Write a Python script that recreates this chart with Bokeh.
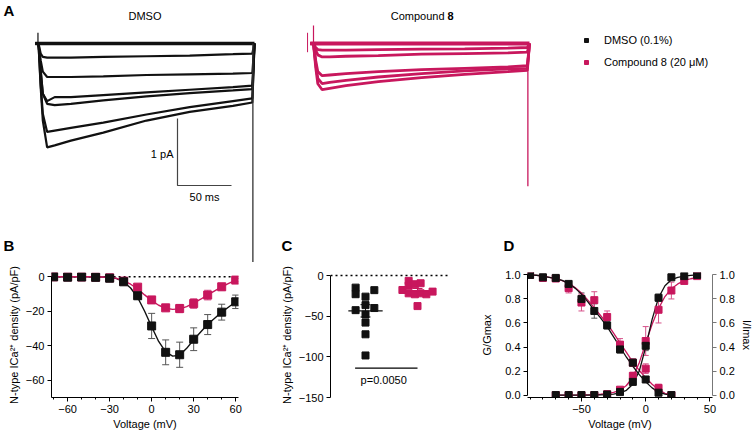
from bokeh.plotting import figure
from bokeh.layouts import row, column
from bokeh.models import (Range1d, FixedTicker, LinearAxis, Whisker, ColumnDataSource,
                          Label, Legend, LegendItem, TeeHead, NumeralTickFormatter)
from bokeh.embed import file_html
from bokeh.resources import INLINE

FONT = "Liberation Sans"
BLACK = "#111111"
PINK = "#C8175D"
PINK_ERR = "#D6528A"
BLACK_ERR = "#555555"

# ---------------- Panel A : current traces (time in ms, current in pA) ----------------
trace_t = [-3, 0, 2, 4, 8, 15, 30, 60, 100, 140, 180, 198, 200]
dmso_traces = [
    [0, 0, 0, 0, 0, 0, 0, 0, 0, 0, 0, 0, 0],
    [0, 0, -0.15, -0.20, -0.21, -0.21, -0.21, -0.20, -0.19, -0.18, -0.16, -0.15, 0],
    [0, 0, -0.25, -0.42, -0.50, -0.50, -0.50, -0.49, -0.47, -0.46, -0.45, -0.44, 0],
    [0, 0, -0.40, -0.75, -0.86, -0.80, -0.80, -0.77, -0.73, -0.69, -0.65, -0.63, 0],
    [0, 0, -0.40, -0.75, -0.90, -0.92, -0.90, -0.85, -0.79, -0.74, -0.70, -0.68, 0],
    [0, 0, -0.60, -1.05, -1.32, -1.30, -1.26, -1.18, -1.06, -0.95, -0.86, -0.82, 0],
    [0, 0, -0.65, -1.15, -1.55, -1.52, -1.45, -1.33, -1.15, -1.02, -0.93, -0.88, 0],
]
cpd_traces = [
    [0, 0, 0, 0, 0, 0, 0, 0, 0, 0, 0, 0, 0],
    [0, 0, -0.06, -0.09, -0.10, -0.10, -0.10, -0.09, -0.085, -0.08, -0.07, -0.06, 0],
    [0, 0, -0.10, -0.17, -0.20, -0.20, -0.19, -0.18, -0.16, -0.15, -0.14, -0.13, 0],
    [0, 0, -0.25, -0.42, -0.48, -0.47, -0.45, -0.42, -0.39, -0.37, -0.35, -0.33, 0],
    [0, 0, -0.30, -0.52, -0.60, -0.58, -0.55, -0.50, -0.45, -0.41, -0.38, -0.37, 0],
    [0, 0, -0.35, -0.60, -0.69, -0.67, -0.63, -0.57, -0.51, -0.46, -0.42, -0.40, 0],
]
dmso_artifact = [0.16, -0.05]
cpd_artifact = [0.27, -0.10]
tail_t = 198.5
dmso_tail_peak = -3.3
cpd_tail_peak = -2.13
scalebar_ms = 50
scalebar_pa = 1

# ---------------- Panel B : I-V ----------------
iv_v = [-70, -60, -50, -40, -30, -20, -10, 0, 10, 20, 30, 40, 50, 60]
iv_dmso = [0, -0.2, -0.1, -0.3, -0.8, -2.9, -11.0, -28.5, -43.8, -45.2, -36.2, -27.7, -20.5, -14.5]
iv_dmso_sem = [0.1, 0.1, 0.1, 0.2, 0.3, 0.8, 2.1, 7.3, 7.2, 7.3, 6.6, 5.8, 4.6, 3.9]
iv_cpd = [0, -0.1, -0.1, -0.2, -0.6, -2.5, -6.0, -13.4, -18.0, -18.4, -15.5, -10.6, -5.8, -1.9]
iv_cpd_sem = [0.1, 0.1, 0.1, 0.1, 0.3, 0.6, 1.3, 1.8, 1.8, 2.4, 2.8, 2.8, 2.0, 1.0]
iv_fit_v = [-70, -65, -60, -55, -50, -45, -40, -35, -30, -25, -20, -15, -10, -5, 0,
            5, 10, 15, 20, 25, 30, 35, 40, 45, 50, 55, 60]
iv_fit_dmso = [0, 0, 0, 0, 0, 0, 0, -0.1, -0.3, -1.0, -3.0, -6.5, -12.0, -20.0, -29.0,
               -37.5, -43.5, -46.0, -45.5, -41.5, -36.5, -32.0, -27.5, -24.0, -20.5, -17.5, -14.5]
iv_fit_cpd = [0, 0, 0, 0, 0, 0, 0, -0.1, -0.3, -0.9, -2.3, -4.3, -7.0, -10.5, -13.8,
              -16.5, -18.2, -18.9, -18.6, -17.3, -15.3, -13.0, -10.5, -8.1, -5.9, -3.8, -2.0]
iv_xticks = [-60, -30, 0, 30, 60]
iv_xminor = [-70, -50, -40, -20, -10, 10, 20, 40, 50]
iv_yticks = [-60, -40, -20, 0]

# ---------------- Panel C : peak density scatter ----------------
groups = ["DMSO", "Compound 8"]
c_dmso = [-14.9, -23.0, -26.0, -18.0, -42.6, -36.4, -40.0, -48.0, -57.9, -72.3, -98.3]
c_cpd = [-6.6, -12.4, -10.7, -9.5, -17.8, -21.9, -23.1, -21.9, -23.1, -19.8, -37.6]
c_yticks = [-150, -100, -50, 0]
p_text = "p=0.0050"
# horizontal scatter offsets (layout only)
c_dmso_dx = [-0.19, -0.19, 0, 0.17, -0.19, 0, 0.17, 0, 0, 0, 0]
c_cpd_dx = [-0.17, -0.17, -0.05, 0.06, -0.29, -0.17, -0.05, 0.06, 0.17, 0.29, 0.0]

# ---------------- Panel D : activation / inactivation ----------------
inact_v = [-90, -80, -70, -60, -50, -40, -30, -20, -10, 0, 10, 20]
inact_dmso = [1.0, 0.98, 0.975, 0.925, 0.80, 0.70, 0.58, 0.38, 0.27, 0.13, 0.02, 0.0]
inact_dmso_sem = [0, 0.01, 0.01, 0.02, 0.05, 0.06, 0.03, 0.03, 0.03, 0.02, 0.01, 0]
inact_cpd = [1.0, 0.975, 0.97, 0.89, 0.77, 0.79, 0.65, 0.42, 0.27, 0.22, 0.06, 0.0]
inact_cpd_sem = [0, 0.01, 0.01, 0.04, 0.07, 0.07, 0.05, 0.05, 0.03, 0.04, 0.03, 0]
act_v = [-70, -60, -50, -40, -30, -20, -10, 0, 10, 20, 30, 40]
act_dmso = [0, 0, 0, 0, 0.005, 0.025, 0.11, 0.41, 0.81, 0.98, 0.99, 1.0]
act_dmso_sem = [0, 0, 0, 0, 0, 0.01, 0.02, 0.04, 0.03, 0.01, 0.01, 0]
act_cpd = [0, 0, 0, 0, 0.008, 0.045, 0.16, 0.45, 0.71, 0.87, 0.95, 0.99]
act_cpd_sem = [0, 0, 0, 0, 0.005, 0.01, 0.03, 0.12, 0.11, 0.07, 0.02, 0.01]
fit_inact_v = [-90, -85, -80, -75, -70, -65, -60, -55, -50, -45, -40, -35, -30, -25,
               -20, -15, -10, -5, 0, 5, 10, 15, 20]
fit_inact_dmso = [1.0, 0.997, 0.99, 0.98, 0.97, 0.955, 0.93, 0.89, 0.84, 0.775, 0.705, 0.64,
                  0.57, 0.485, 0.40, 0.315, 0.24, 0.17, 0.11, 0.06, 0.025, 0.008, 0.0]
fit_inact_cpd = [1.0, 0.996, 0.99, 0.98, 0.968, 0.952, 0.93, 0.895, 0.85, 0.79, 0.725, 0.66,
                 0.595, 0.515, 0.435, 0.355, 0.275, 0.205, 0.145, 0.09, 0.045, 0.015, 0.0]
fit_act_v = [-70, -65, -60, -55, -50, -45, -40, -35, -30, -25, -20, -15, -10, -5, 0,
             5, 10, 15, 20, 25, 30, 35, 40]
fit_act_dmso = [0, 0, 0, 0, 0, 0, 0.001, 0.002, 0.004, 0.008, 0.018, 0.04, 0.09, 0.2, 0.4,
                0.63, 0.81, 0.91, 0.96, 0.98, 0.99, 0.996, 1.0]
fit_act_cpd = [0, 0, 0, 0, 0.001, 0.002, 0.004, 0.007, 0.012, 0.022, 0.04, 0.08, 0.15, 0.27,
               0.43, 0.59, 0.72, 0.82, 0.885, 0.925, 0.952, 0.968, 0.978]
d_xticks = [-50, 0, 50]
d_xminor = [-90, -80, -70, -60, -40, -30, -20, -10, 10, 20, 30, 40]
d_yticks = [0, 0.2, 0.4, 0.6, 0.8, 1.0]

legend_labels = ["DMSO (0.1%)", "Compound 8 (20 \u03bcM)"]

# ============================ layout constants ============================
TOP_H = 262
BOT_H = 172
PX_MS = 1.08
PX_PA = 67.0
Y1 = 43 / PX_PA


class TraceFig:
    def __init__(self, width, t0_px):
        self.x0 = -t0_px / PX_MS
        f = figure(width=width, height=TOP_H, x_range=Range1d(self.x0, self.x0 + width / PX_MS),
                   y_range=Range1d(Y1 - TOP_H / PX_PA, Y1), output_backend="svg",
                   toolbar_location=None, min_border=0, x_axis_location=None, y_axis_location=None)
        f.grid.visible = False
        f.outline_line_color = None
        self.f = f

    def at(self, cx, cy):
        return self.x0 + cx / PX_MS, Y1 - cy / PX_PA

    def label(self, cx, cy, text, size="11px", bold=False, align="left", baseline="middle"):
        x, y = self.at(cx, cy)
        self.f.add_layout(Label(x=x, y=y, text=text, text_font=FONT, text_font_size=size,
                                text_font_style="bold" if bold else "normal", text_color="black",
                                text_align=align, text_baseline=baseline))


# ---- A: DMSO
A1 = TraceFig(280, 38)
pA1 = A1.f
for i, tr in enumerate(dmso_traces):
    pA1.line(trace_t, tr, line_color=BLACK, line_width=3.5 if i == 0 else 2.2)
pA1.segment(x0=[-0.5], y0=[dmso_artifact[0]], x1=[-0.5], y1=[dmso_artifact[1]], line_color=BLACK, line_width=1.2)
pA1.segment(x0=[tail_t], y0=[0], x1=[tail_t], y1=[dmso_tail_peak], line_color="#333333", line_width=1.3)
sb_x, sb_y = A1.at(177, 118)
pA1.line([sb_x, sb_x, sb_x + scalebar_ms], [sb_y, sb_y - scalebar_pa, sb_y - scalebar_pa],
         line_color="#444444", line_width=1.2)
A1.label(3, 1, "A", size="15px", bold=True, baseline="top")
A1.label(128, 15, "DMSO")
A1.label(173, 153, "1 pA", align="right")
A1.label(204, 196, "50 ms", align="center")
A1.label(3, 236, "B", size="15px", bold=True, baseline="top")

# ---- A: Compound 8
A2 = TraceFig(280, 33)
pA2 = A2.f
for i, tr in enumerate(cpd_traces):
    pA2.line(trace_t, tr, line_color=PINK, line_width=4 if i == 0 else 2.8)
pA2.segment(x0=[0], y0=[cpd_artifact[0]], x1=[0], y1=[cpd_artifact[1]], line_color=PINK, line_width=1.2)
pA2.segment(x0=[-5.5], y0=[0.16], x1=[-5.5], y1=[-0.13], line_color=PINK, line_width=1)
pA2.segment(x0=[tail_t], y0=[0], x1=[tail_t], y1=[cpd_tail_peak], line_color=PINK, line_width=1.3)
A2.label(164, 15, "Compound", align="right")
A2.label(167, 15, "8", bold=True)
A2.label(1, 236, "C", size="15px", bold=True, baseline="top")
A2.label(223, 236, "D", size="15px", bold=True, baseline="top")

# ---- legend figure (its series lie outside its own ranges; only the legend shows)
pL = figure(width=195, height=TOP_H, x_range=Range1d(1000, 1001), y_range=Range1d(1000, 1001),
            output_backend="svg", toolbar_location=None, min_border=0,
            x_axis_location=None, y_axis_location=None)
pL.grid.visible = False
pL.outline_line_color = None
r1 = pL.scatter(iv_v, iv_dmso, marker="square", size=6, color=BLACK)
r2 = pL.scatter(iv_v, iv_cpd, marker="square", size=6, color=PINK)
leg = Legend(items=[LegendItem(label=legend_labels[0], renderers=[r1]),
                    LegendItem(label=legend_labels[1], renderers=[r2])],
             location=(21, 194), padding=0, margin=0, spacing=10,
             glyph_width=10, glyph_height=12, label_height=12, label_standoff=13,
             label_text_font=FONT, label_text_font_size="11px", label_text_color="black",
             border_line_color=None, background_fill_alpha=0)
pL.add_layout(leg)


# ============================ bottom panels ============================
def style_axis(ax, standoff=3):
    ax.axis_line_color = "black"
    ax.axis_line_width = 1
    ax.major_tick_line_color = "black"
    ax.minor_tick_line_color = "black"
    ax.major_tick_in = 0
    ax.major_tick_out = 4
    ax.minor_tick_in = 0
    ax.minor_tick_out = 2
    ax.major_label_text_font = FONT
    ax.major_label_text_font_size = "11px"
    ax.major_label_text_color = "black"
    ax.axis_label_text_font = FONT
    ax.axis_label_text_font_size = "11px"
    ax.axis_label_text_font_style = "normal"
    ax.axis_label_text_color = "black"
    ax.major_label_standoff = 3
    ax.axis_label_standoff = standoff


def bottom_fig(width, xr, yr, left, right, xaxis=True):
    f = figure(width=width, height=BOT_H, x_range=Range1d(*xr), y_range=Range1d(*yr),
               output_backend="svg", toolbar_location=None,
               min_border_left=left, min_border_right=right, min_border_top=10, min_border_bottom=37,
               x_axis_location="below" if xaxis else None)
    f.grid.visible = False
    f.outline_line_color = None
    return f


def errbars(f, x, y, sem, color, head=7):
    up = [a + b for a, b in zip(y, sem)]
    lo = [a - b for a, b in zip(y, sem)]
    src = ColumnDataSource(dict(x=x, up=up, lo=lo))
    f.add_layout(Whisker(base="x", upper="up", lower="lo", source=src, line_color=color, line_width=1,
                         upper_head=TeeHead(size=head, line_color=color, line_width=1),
                         lower_head=TeeHead(size=head, line_color=color, line_width=1)))


# ---- B
pB = bottom_fig(262, (-71.5, 62), (-70, 2.5), 51, 24)
style_axis(pB.xaxis[0], standoff=2)
style_axis(pB.yaxis[0])
pB.xaxis.ticker = FixedTicker(ticks=iv_xticks, minor_ticks=iv_xminor)
pB.yaxis.ticker = FixedTicker(ticks=iv_yticks)
pB.yaxis.bounds = (iv_v[0], 0)
pB.xaxis.axis_label = "Voltage (mV)"
pB.yaxis.axis_label = "N-type ICa\u00b2\u207a density (pA/pF)"
pB.segment(x0=[iv_v[0]], y0=[0], x1=[iv_v[-1]], y1=[0], line_color="black", line_width=1.6, line_dash="2 3")
errbars(pB, iv_v, iv_dmso, iv_dmso_sem, BLACK_ERR)
errbars(pB, iv_v, iv_cpd, iv_cpd_sem, PINK_ERR)
pB.line(iv_fit_v, iv_fit_dmso, line_color=BLACK, line_width=1.4)
pB.line(iv_fit_v, iv_fit_cpd, line_color=PINK, line_width=1.4)
pB.scatter(iv_v, iv_cpd, marker="square", size=8, color=PINK)
pB.scatter(iv_v, iv_dmso, marker="square", size=8, color=BLACK)

# ---- C
C_X0 = 1 - 35 / 52
C_X1 = C_X0 + 118 / 52
pC = bottom_fig(216, (C_X0, C_X1), (-150, 3.7), 68, 30, xaxis=False)
style_axis(pC.yaxis[0])
pC.yaxis.ticker = FixedTicker(ticks=c_yticks)
pC.yaxis.bounds = (c_yticks[0], 0)
pC.yaxis.axis_label = "N-type ICa\u00b2\u207a density (pA/pF)"
pC.segment(x0=[C_X0], y0=[0], x1=[C_X1], y1=[0], line_color="black", line_width=1.6, line_dash="2 3")
for gi, (vals, dx, col) in enumerate([(c_dmso, c_dmso_dx, BLACK), (c_cpd, c_cpd_dx, PINK)]):
    xc = gi + 1
    n = len(vals)
    mean = sum(vals) / n
    sd = (sum((v - mean) ** 2 for v in vals) / (n - 1)) ** 0.5
    sem = sd / n ** 0.5
    pC.scatter([xc + d for d in dx], vals, marker="square", size=7, color=col)
    pC.segment(x0=[xc - 0.33], y0=[mean], x1=[xc + 0.33], y1=[mean], line_color=col, line_width=1.3)
    errbars(pC, [xc], [mean], [sem], col, head=10)
pC.segment(x0=[0.8], y0=[-114], x1=[2.0], y1=[-114], line_color="black", line_width=1.2)
pC.add_layout(Label(x=1.35, y=-129, text=p_text, text_font=FONT, text_font_size="11px",
                    text_color="black", text_align="center", text_baseline="middle"))

# ---- D
pD = bottom_fig(277, (-92, 52), (-0.02, 1.02), 48, 41)
pD.extra_y_ranges = {"r": Range1d(-0.02, 1.02)}
style_axis(pD.xaxis[0], standoff=2)
style_axis(pD.yaxis[0], standoff=9)
pD.xaxis.ticker = FixedTicker(ticks=d_xticks, minor_ticks=d_xminor)
pD.xaxis.axis_label = "Voltage (mV)"
pD.yaxis.ticker = FixedTicker(ticks=d_yticks)
pD.yaxis.formatter = NumeralTickFormatter(format="0.0")
pD.yaxis.bounds = (0, 1)
pD.yaxis.axis_label = "G/Gmax"
rax = LinearAxis(y_range_name="r", axis_label="I/Imax", ticker=FixedTicker(ticks=d_yticks),
                 formatter=NumeralTickFormatter(format="0.0"), bounds=(0, 1))
style_axis(rax, standoff=3)
rax.axis_line_color = "#777777"
rax.major_tick_line_color = "#777777"
pD.add_layout(rax, "right")
errbars(pD, inact_v, inact_dmso, inact_dmso_sem, BLACK_ERR, head=6)
errbars(pD, inact_v, inact_cpd, inact_cpd_sem, PINK_ERR, head=6)
errbars(pD, act_v, act_dmso, act_dmso_sem, BLACK_ERR, head=6)
errbars(pD, act_v, act_cpd, act_cpd_sem, PINK_ERR, head=6)
pD.line(fit_inact_v, fit_inact_cpd, line_color=PINK, line_width=1.3)
pD.line(fit_act_v, fit_act_cpd, line_color=PINK, line_width=1.3)
pD.line(fit_inact_v, fit_inact_dmso, line_color=BLACK, line_width=1.3)
pD.line(fit_act_v, fit_act_dmso, line_color=BLACK, line_width=1.3)
pD.scatter(inact_v, inact_cpd, marker="square", size=7, color=PINK)
pD.scatter(act_v, act_cpd, marker="square", size=7, color=PINK)
pD.scatter(inact_v, inact_dmso, marker="square", size=7, color=BLACK)
pD.scatter(act_v, act_dmso, marker="square", size=7, color=BLACK)

layout = column(row(pA1, pA2, pL), row(pB, pC, pD))
open("out.html", "w").write(file_html(layout, INLINE))
